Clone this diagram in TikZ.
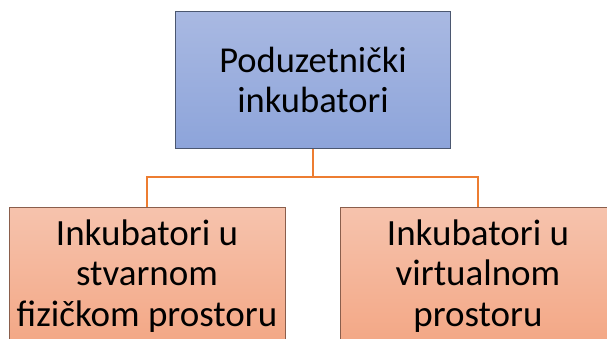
\documentclass[tikz,border=0pt]{standalone}
\usepackage{fontspec}
\setmainfont{Carlito}
\definecolor{topA}{HTML}{A9B9E2}
\definecolor{topB}{HTML}{8DA4DA}
\definecolor{topborder}{HTML}{4B5770}
\definecolor{botA}{HTML}{F6C3AD}
\definecolor{botB}{HTML}{F3A785}
\definecolor{botborder}{HTML}{8A5E4C}
\definecolor{conn}{HTML}{ED7D31}
\begin{document}
\begin{tikzpicture}[x=1pt,y=-1pt,
  box/.style={line width=1pt, minimum width=276pt, minimum height=137pt,
    inner sep=0pt, align=center, font=\fontsize{37}{40.5}\selectfont},
  topbox/.style={box, draw=topborder, top color=topA, bottom color=topB},
  childbox/.style={box, draw=botborder, top color=botA, bottom color=botB},
  link/.style={draw=conn, line width=2.5pt}]
\useasboundingbox (0,0) rectangle (607,338);
\clip (0,0) rectangle (607,338);
\node[topbox, minimum width=275.5pt, font=\fontsize{36.5}{40}\selectfont] (root) at (313,79.5) {Poduzetnički\\inkubatori};
\node[childbox] (left) at (147,276) {Inkubatori u\\stvarnom\\fizičkom prostoru};
\node[childbox] (right) at (478,276) {Inkubatori u\\virtualnom\\prostoru};
\coordinate (bus) at (313,177);
\draw[link] (root.south) -- (bus) -| (left.north);
\draw[link] (bus) -| (right.north);
\end{tikzpicture}
\end{document}
